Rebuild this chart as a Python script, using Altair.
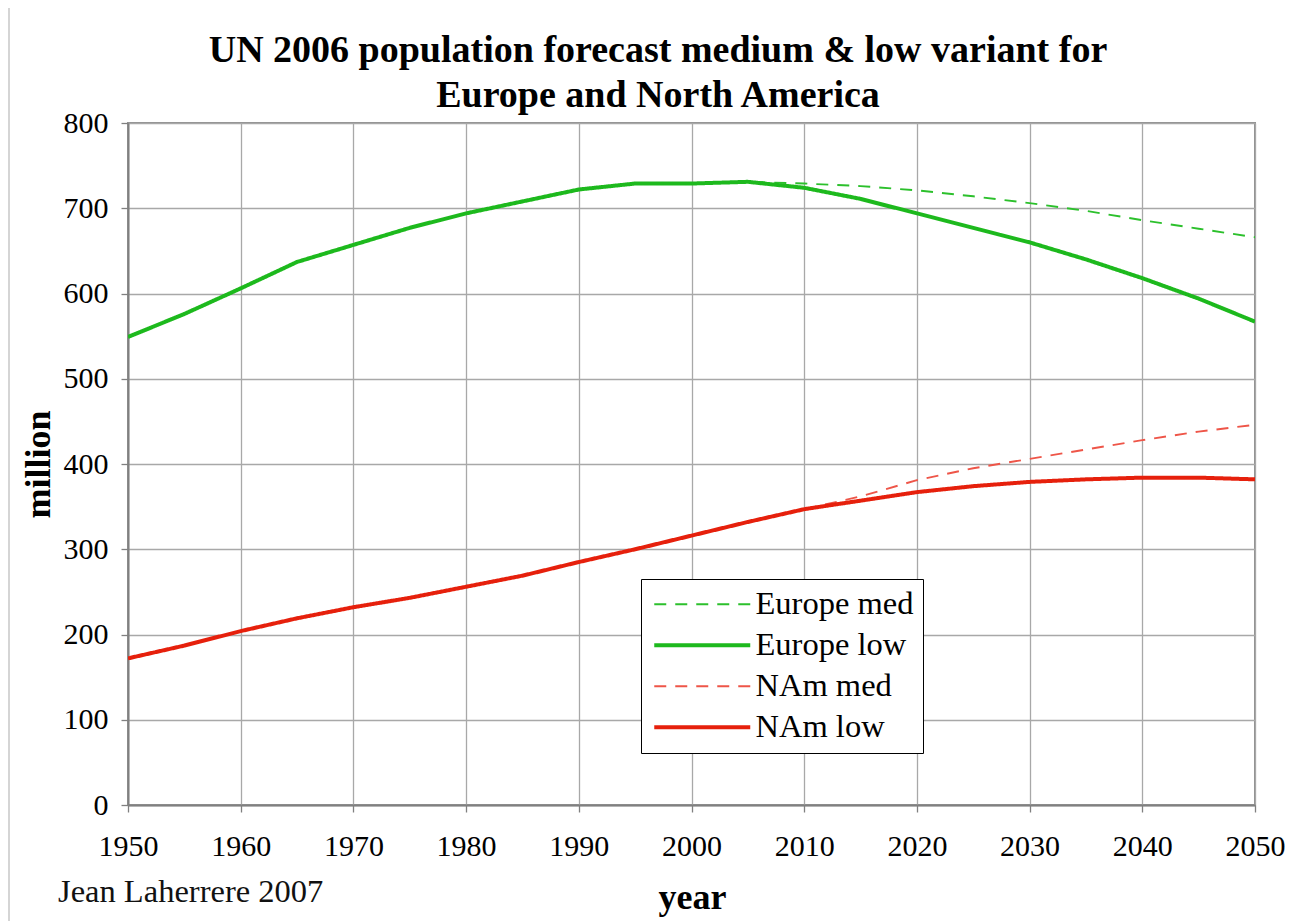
import altair as alt
import pandas as pd

years = [1950, 1955, 1960, 1965, 1970, 1975, 1980, 1985, 1990, 1995, 2000,
         2005, 2010, 2015, 2020, 2025, 2030, 2035, 2040, 2045, 2050]

europe_low = [549, 576, 606, 637, 657, 677, 694, 708, 722, 729, 729,
              731, 724, 711, 694, 677, 660, 640, 618, 594, 567]
europe_med = [549, 576, 606, 637, 657, 677, 694, 708, 722, 729, 729,
              731, 729, 726, 721, 714, 706, 697, 686, 676, 666]
nam_low = [172, 187, 204, 219, 232, 243, 256, 269, 285, 300, 316,
           332, 347, 357, 367, 374, 379, 382, 384, 384, 382]
nam_med = [172, 187, 204, 219, 232, 243, 256, 269, 285, 300, 316,
           332, 347, 362, 381, 395, 406, 417, 428, 438, 446]

series_names = ["Europe med", "Europe low", "NAm med", "NAm low"]
series_values = [europe_med, europe_low, nam_med, nam_low]
series_colors = ["#2cc02c", "#1db91d", "#ee5548", "#e6200c"]
series_dash = [[12, 9], [1, 0], [12, 9], [1, 0]]
series_width = [1.9, 4.0, 1.9, 4.0]

title_lines = ["UN 2006 population forecast medium & low variant for",
               "Europe and North America"]
credit_text = "Jean Laherrere 2007"

rows = []
for name, vals in zip(series_names, series_values):
    for y, v in zip(years, vals):
        rows.append({"year": y, "value": v, "series": name})
df = pd.DataFrame(rows)

x_ticks = list(range(1950, 2051, 10))
y_ticks = list(range(0, 801, 100))

W, H = 1127, 682
SERIF = "Liberation Serif"

leg = alt.Legend(title=None, orient="none", legendX=513, legendY=456)

lines = alt.Chart(df).mark_line(clip=True).encode(
    x=alt.X("year:Q",
            scale=alt.Scale(domain=[1950, 2050], nice=False, zero=False),
            axis=alt.Axis(values=x_ticks, format="d", title="year", labelFlush=False,
                          titleX=564, titleY=103, titleBaseline="alphabetic",
                          titleAlign="center")),
    y=alt.Y("value:Q",
            scale=alt.Scale(domain=[0, 800], nice=False),
            axis=alt.Axis(values=y_ticks, title="million", labelFlush=False,
                          titleX=-90, titleY=341, titleAngle=-90,
                          titleAlign="center", titleBaseline="middle")),
    color=alt.Color("series:N",
                    scale=alt.Scale(domain=series_names, range=series_colors),
                    sort=series_names, legend=leg),
    strokeDash=alt.StrokeDash("series:N",
                              scale=alt.Scale(domain=series_names, range=series_dash),
                              sort=series_names, legend=leg),
    strokeWidth=alt.StrokeWidth("series:N",
                                scale=alt.Scale(type="ordinal", domain=series_names,
                                                range=series_width),
                                sort=series_names, legend=leg),
    detail="series:N",
)

title_df = pd.DataFrame({"line": title_lines, "yy": [-61, -16]})
title = alt.Chart(title_df).mark_text(
    align="center", baseline="alphabetic", font=SERIF, fontSize=38,
    fontWeight="bold", color="#000", clip=False
).encode(x=alt.value(530), y=alt.Y("yy:Q", scale=None), text="line:N")

credit = alt.Chart(pd.DataFrame({"t": [credit_text]})).mark_text(
    align="left", baseline="alphabetic", font=SERIF, fontSize=32.5, color="#111"
).encode(x=alt.value(-70), y=alt.value(779), text="t:N")

frame = alt.Chart(pd.DataFrame({"a": [0]})).mark_rect(
    fill=None, stroke="#c8c8c8", strokeWidth=1.5, clip=False
).encode(x=alt.value(-119), x2=alt.value(W + 200), y=alt.value(-116), y2=alt.value(H + 300))

chart = alt.layer(frame, lines, credit, title).properties(
    width=W, height=H,
    autosize=alt.AutoSizeParams(type="none"),
    padding={"left": 120, "top": 115, "right": 30, "bottom": 116},
).configure_view(
    stroke="#909090", strokeWidth=2
).configure_axis(
    grid=True, gridColor="#a8a8a8", gridWidth=1.3,
    domainColor="#808080", domainWidth=2,
    tickColor="#808080", tickWidth=1.3, tickSize=7,
    labelFont=SERIF, labelFontSize=30, labelColor="#000",
    titleFont=SERIF, titleFontSize=36, titleFontWeight="bold", titleColor="#000",
).configure_axisY(
    labelPadding=13
).configure_axisX(
    labelPadding=19
).configure_legend(
    symbolType="M-1,0H7", symbolSize=576,
    labelFont=SERIF, labelFontSize=32.5, labelColor="#000", labelLimit=400,
    rowPadding=8, padding=9, strokeColor="#000", fillColor="#fff",
    labelOffset=73, cornerRadius=0,
)

chart.save("out.html", embed_options={"renderer": "svg", "actions": False})
